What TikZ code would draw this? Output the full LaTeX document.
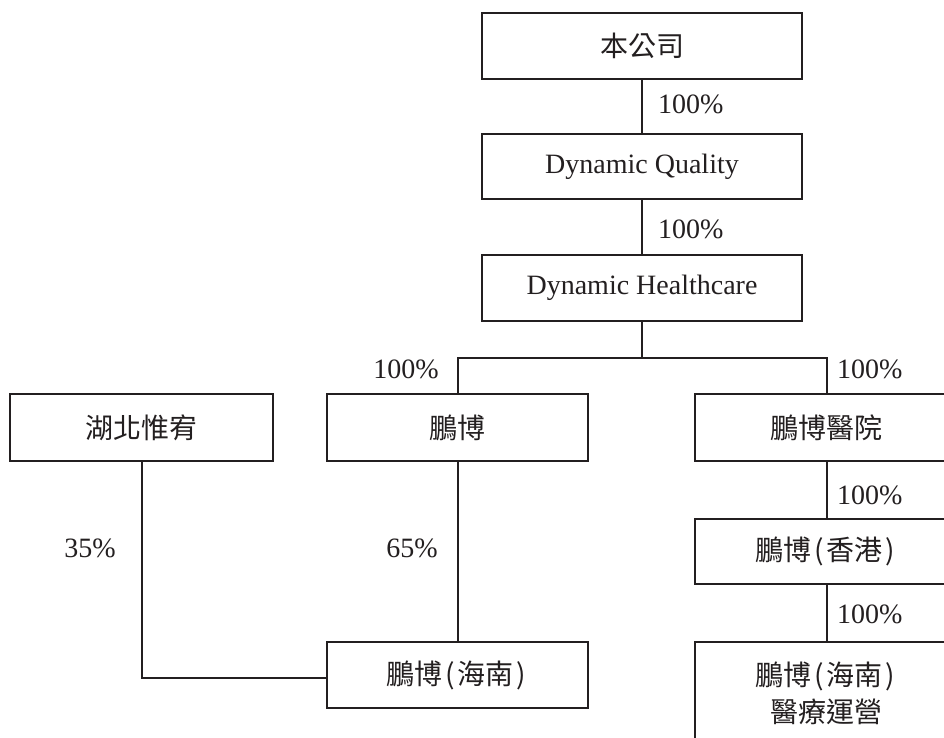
\documentclass[tikz,border=0pt]{standalone}
\usepackage{fontspec}
\setmainfont{Liberation Serif}
\newfontfamily\cjk{Noto Sans CJK TC}
\definecolor{ink}{HTML}{231F20}
\newcommand{\lp}{\kern3pt(\kern3pt}
\newcommand{\rp}{\kern3pt)\kern3pt}
\tikzset{
  box/.style={draw=ink, line width=2pt, text=ink, align=center, inner sep=0pt,
    minimum height=66pt, font=\fontsize{28}{37}\selectfont},
  cjkbox/.style={box, font=\fontsize{28}{37}\selectfont\cjk},
  pct/.style={text=ink, inner sep=0pt, font=\fontsize{28}{34}\selectfont},
  link/.style={draw=ink, line width=2pt},
}
\begin{document}
\begin{tikzpicture}[x=1pt,y=-1pt]
\useasboundingbox (0,0) rectangle (944,737);
\fill[white] (0,0) rectangle (944,737);
\clip (0,0) rectangle (944,737);
% boxes
\node[cjkbox, minimum width=320pt] (top) at (642,46) {本公司};
\node[box, minimum width=320pt, minimum height=65pt] (dq) at (642,166.5) {Dynamic Quality};
\node[box, minimum width=320pt] (dh) at (642,288) {Dynamic Healthcare};
\node[cjkbox, minimum width=263pt, minimum height=67pt] (hubei) at (141.5,427.5) {湖北惟宥};
\node[cjkbox, minimum width=261pt, minimum height=67pt] (pb) at (457.5,427.5) {鵬博};
\node[cjkbox, minimum width=263pt, minimum height=67pt] (pbh) at (826.5,427.5) {鵬博醫院};
\node[cjkbox, minimum width=263pt, minimum height=65pt] (pbhk) at (826.5,551.5) {鵬博\lp 香港\rp};
\node[cjkbox, minimum width=261pt] (pbhn) at (457.5,675) {鵬博\lp 海南\rp};
\node[cjkbox, minimum width=263pt, minimum height=103pt] (pbop) at (826.5,693.5) {鵬博\lp 海南\rp\\醫療運營};
% connectors
\coordinate (bus) at (642,358);
\draw[link] (top.south) -- (dq.north);
\draw[link] (dq.south) -- (dh.north);
\draw[link] (dh.south) -- (bus);
\draw[link] (pb.north) |- (bus) -| (pbh.north);
\draw[link] (pbh.south) -- (pbhk.north);
\draw[link] (pbhk.south) -- (pbop.north);
\draw[link] (pb.south) -- (pbhn.north);
\draw[link] (hubei.south) |- ([yshift=-3pt]pbhn.west);
% labels
\node[pct, anchor=west] (l1) at (658,104) {100\%};
\node[pct, anchor=west] (l2) at (658,229) {100\%};
\node[pct, anchor=east] (l3) at (439,369) {100\%};
\node[pct, anchor=west] (l4) at (837,369) {100\%};
\node[pct, anchor=west] (l5) at (837,495) {100\%};
\node[pct, anchor=west] (l6) at (837,614) {100\%};
\node[pct, anchor=east] (l7) at (116,548) {35\%};
\node[pct, anchor=east] (l8) at (438,548) {65\%};
\end{tikzpicture}
\end{document}
